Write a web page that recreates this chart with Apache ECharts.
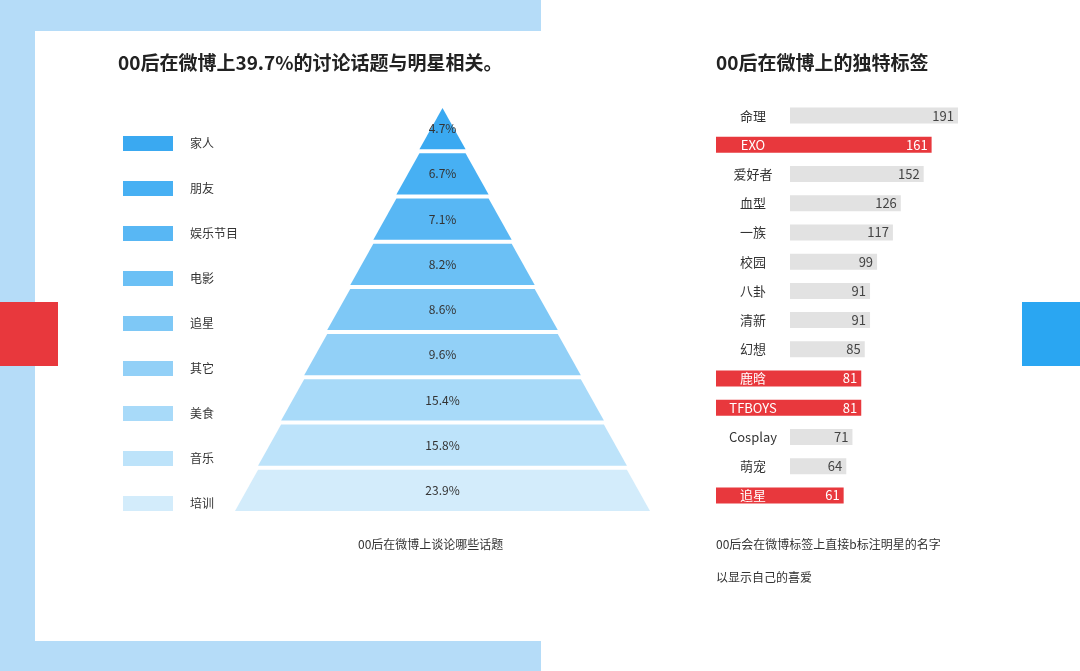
<!DOCTYPE html>
<html>
<head>
<meta charset="utf-8">
<script src="https://cdn.jsdelivr.net/npm/echarts@6/dist/echarts.min.js"></script>
<style>html,body{margin:0;padding:0;background:#fff}#main{width:1080px;height:671px}</style>
</head>
<body>
<div id="main"></div>
<script>
// pyramid: top to bottom
var topics = ['家人', '朋友', '娱乐节目', '电影', '追星', '其它', '美食', '音乐', '培训'];
var topicShares = ['4.7%', '6.7%', '7.1%', '8.2%', '8.6%', '9.6%', '15.4%', '15.8%', '23.9%'];
var topicColors = ['#3aa9f1', '#47b0f3', '#58b7f4', '#6bc0f5', '#7ec8f6', '#92d0f7', '#a8daf9', '#bde3fa', '#d3ecfb'];

// tags, top to bottom
var tags = ['命理', 'EXO', '爱好者', '血型', '一族', '校园', '八卦', '清新', '幻想', '鹿晗', 'TFBOYS', 'Cosplay', '萌宠', '追星'];
var tagCounts = [191, 161, 152, 126, 117, 99, 91, 91, 85, 81, 81, 71, 64, 61];
var starTags = ['EXO', '鹿晗', 'TFBOYS', '追星'];

var RED = '#e8383d';
var font = '"Noto Sans CJK SC", "Noto Sans", sans-serif';

var chart = echarts.init(document.getElementById('main'));

var funnelData = topics.map(function (t, i) {
    // rank gives the straight-sided pyramid; the label carries the share
    return { name: t, value: i + 1, share: topicShares[i], itemStyle: { color: topicColors[i] } };
});

var option = {
    textStyle: { fontFamily: font },
    graphic: [
        { type: 'rect', z: -10, shape: { x: 0, y: 0, width: 541, height: 671 }, style: { fill: '#b5dcf8' } },
        { type: 'rect', z: -9, shape: { x: 35, y: 31, width: 1045, height: 610 }, style: { fill: '#fff' } },
        { type: 'rect', z: -8, shape: { x: 0, y: 302, width: 58, height: 64 }, style: { fill: RED } },
        { type: 'rect', z: -8, shape: { x: 1022, y: 302, width: 58, height: 64 }, style: { fill: '#2aa6f2' } },
        { type: 'text', left: 118, top: 53, style: { text: '00后在微博上39.7%的讨论话题与明星相关。', font: 'bold 19px ' + font, fill: '#222' } },
        { type: 'text', left: 716, top: 53, style: { text: '00后在微博上的独特标签', font: 'bold 19px ' + font, fill: '#222' } },
        { type: 'text', left: 358, top: 538, style: { text: '00后在微博上谈论哪些话题', font: '12px ' + font, fill: '#333' } },
        { type: 'text', left: 716, top: 538, style: { text: '00后会在微博标签上直接b标注明星的名字', font: '12px ' + font, fill: '#333' } },
        { type: 'text', left: 716, top: 571, style: { text: '以显示自己的喜爱', font: '12px ' + font, fill: '#333' } }
    ],
    legend: {
        orient: 'vertical',
        left: 118,
        top: 131,
        itemWidth: 50,
        itemHeight: 15,
        itemGap: 30,
        icon: 'rect',
        data: topics,
        textStyle: { color: '#333', fontSize: 12, padding: [0, 0, 0, 12] },
        selectedMode: false
    },
    grid: { left: 790, right: 122, top: 101, bottom: 161 },
    xAxis: { type: 'value', min: 0, max: 191, show: false },
    yAxis: {
        type: 'category',
        inverse: true,
        data: tags,
        axisLine: { show: false },
        axisTick: { show: false },
        axisLabel: {
            margin: 0,
            formatter: function (v) {
                return starTags.indexOf(v) >= 0 ? '{r|' + v + '}' : '{g|' + v + '}';
            },
            rich: {
                r: { backgroundColor: RED, color: '#fff', width: 74, height: 16, align: 'center', fontSize: 13 },
                g: { color: '#333', width: 74, height: 16, align: 'center', fontSize: 13 }
            }
        }
    },
    series: [
        {
            type: 'funnel',
            left: 235,
            width: 415,
            top: 108,
            height: 403,
            sort: 'ascending',
            gap: 4,
            min: 0,
            max: 9,
            minSize: '0%',
            maxSize: '100%',
            data: funnelData,
            label: {
                position: 'inside',
                color: '#333',
                fontSize: 12,
                formatter: function (p) { return p.data.share; }
            },
            itemStyle: { borderWidth: 0 },
            emphasis: { disabled: true }
        },
        {
            type: 'bar',
            barWidth: 16,
            data: tagCounts.map(function (v, i) {
                var star = starTags.indexOf(tags[i]) >= 0;
                return {
                    value: v,
                    itemStyle: { color: star ? RED : '#e2e2e2' },
                    label: { color: star ? '#fff' : '#444' }
                };
            }),
            label: { show: true, position: 'insideRight', fontSize: 13, distance: 4 },
            silent: true
        }
    ]
};

chart.setOption(option);
</script>
</body>
</html>
